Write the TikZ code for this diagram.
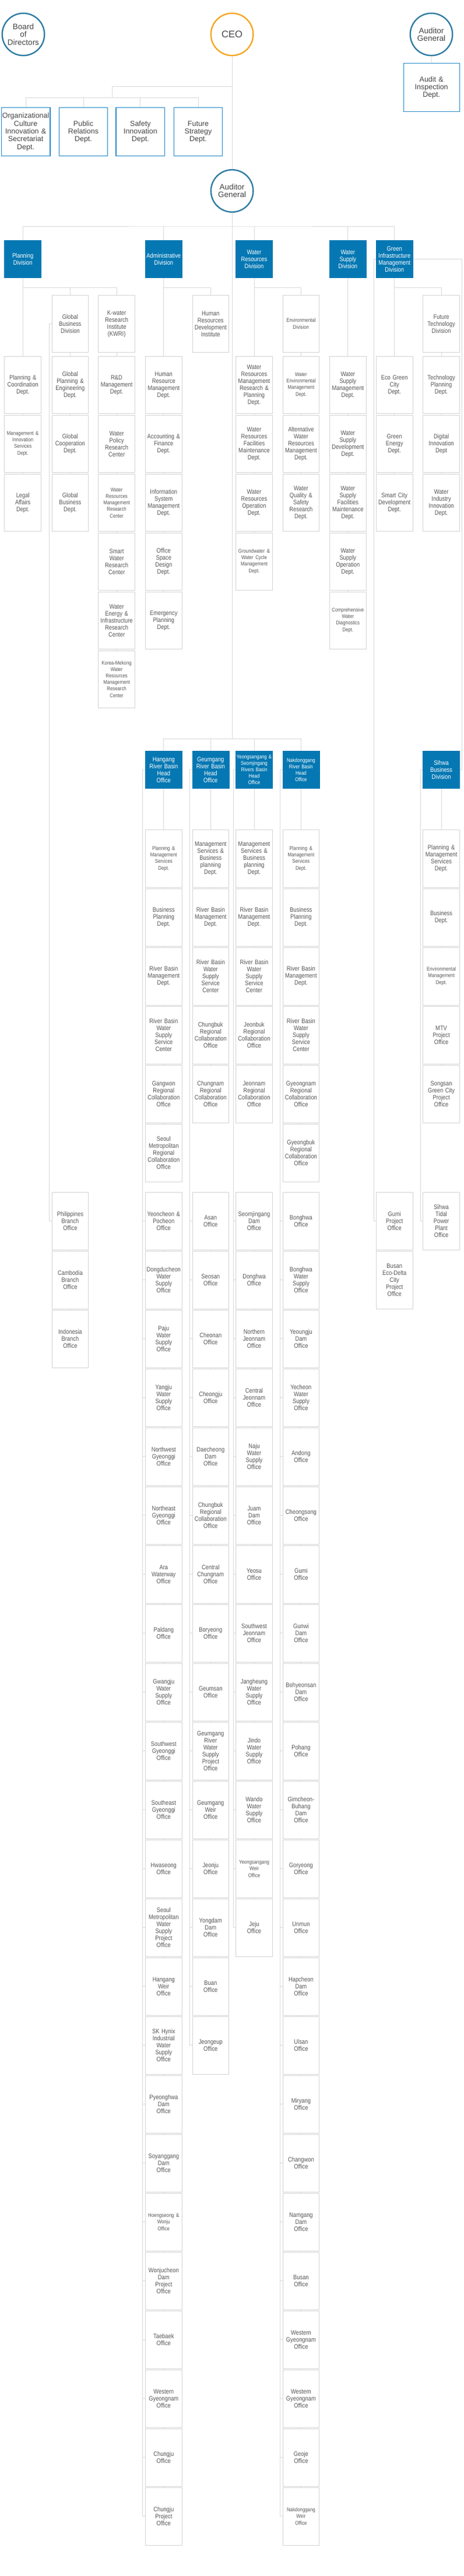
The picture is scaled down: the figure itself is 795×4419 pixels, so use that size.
\documentclass[tikz,border=0pt]{standalone}
\usepackage{fontspec}
\setmainfont{Liberation Sans}
\newfontfamily\kwbody[FakeStretch=0.85]{Liberation Sans}
\usetikzlibrary{backgrounds}
\newcommand\kwN{\kwbody\fontsize{11}{12}\selectfont}
\newcommand\kwS{\kwbody\fontsize{9.2}{11}\selectfont}
\newcommand\kwT{\fontsize{12.5}{13.3}\selectfont}
\newcommand\kwC{\fontsize{13.5}{13.3}\selectfont}
\newcommand\kwCEO{\fontsize{16.5}{18}\selectfont}
\definecolor{linegray}{HTML}{D9D9D9}
\definecolor{boxline}{HTML}{D4D4D4}
\definecolor{txtgray}{HTML}{555555}
\definecolor{divblue}{HTML}{0578B3}
\definecolor{topblue}{HTML}{2389C9}
\definecolor{circblue}{HTML}{2F7CA3}
\definecolor{ceoorange}{HTML}{F6A623}
\definecolor{toptxt}{HTML}{444444}
\newcommand\cA{39.2}
\newcommand\cB{120.4}
\newcommand\cC{200.1}
\newcommand\cD{280.8}
\newcommand\cE{361.3}
\newcommand\cF{436}
\newcommand\cG{516.4}
\newcommand\cH{596.8}
\newcommand\cI{676.7}
\newcommand\cJ{757.1}
% column of department boxes: prefix, x, first centre y, list
\newcommand\kwcol[4]{\foreach \kwtxt [count=\k from 0] in {#4} {\node[deptbox] (#1\k) at (#2,{#3+101*\k}) {\kwtxt};}}
% short connectors between stacked boxes
\newcommand\kwtick[2]{\foreach \k in {1,...,#2}{\pgfmathtruncatemacro\kwp{\k-1}\draw[conn] (#1\kwp.south) -- (#1\k.north);}}
% stubs from a side line
\newcommand\kwstub[3]{\foreach \k in {0,...,#2}{\draw[conn] (#1\k.west) -- ++(-#3,0);}}
\begin{document}
\begin{tikzpicture}[x=1pt,y=-1pt,
  deptbox/.style={rectangle, draw=boxline, fill=white, line width=0.8pt, minimum width=62.7pt, minimum height=98.2pt, text width=62pt, align=center, inner sep=0pt, text=txtgray, font=\kwN},
  divbox/.style={rectangle, fill=divblue, draw=divblue, line width=0.5pt, minimum width=63pt, minimum height=64.2pt, text width=62pt, align=center, inner sep=0pt, text=white, font=\kwN},
  topbox/.style={rectangle, draw=topblue, fill=white, line width=1.1pt, minimum width=83.8pt, minimum height=82.8pt, text width=82pt, align=center, inner sep=0pt, text=toptxt, font=\kwT},
  circ/.style={circle, draw=circblue, fill=white, line width=2.4pt, minimum size=72.5pt, inner sep=0pt, align=center, text=toptxt, font=\kwC},
  conn/.style={draw=linegray, line width=0.9pt}]
\useasboundingbox (0,0) rectangle (795,4419);

% ---------- top ----------
\node[circ] (bod) at (40,59) {Board\\of\\Directors};
\node[circ, draw=ceoorange, font=\kwCEO] (ceo) at (398.1,59) {CEO};
\node[circ] (ag1) at (740,59) {Auditor\\General};
\node[topbox, minimum width=95.8pt, text width=94pt] (aud) at (740.2,150.3) {Audit \&\\Inspection\\Dept.};
\node[topbox] (oc) at (44.1,226.3) {Organizational\\Culture\\Innovation \&\\Secretariat\\Dept.};
\node[topbox] (pr) at (143,226.3) {Public\\Relations\\Dept.};
\node[topbox] (si) at (240.9,226.3) {Safety\\Innovation\\Dept.};
\node[topbox] (fs) at (340,226.3) {Future\\Strategy\\Dept.};
\node[circ] (ag2) at (398.1,327.5) {Auditor\\General};

% ---------- divisions ----------
\node[divbox] (pd) at (\cA,444.3) {Planning\\Division};
\node[divbox] (ad) at (\cD,444.3) {Administrative\\Division};
\node[divbox] (wr) at (\cF,444.3) {Water\\Resources\\Division};
\node[divbox] (ws) at (\cH,444.3) {Water\\Supply\\Division};
\node[divbox] (gi) at (\cI,444.3) {Green\\Infrastructure\\Management\\Division};

\node[deptbox] (gbd) at (\cB,555.5) {Global\\Business\\Division};
\node[deptbox] (kwri) at (\cC,555.5) {K-water\\Research\\Institute\\(KWRI)};
\node[deptbox] (hrdi) at (\cE,555.5) {Human\\Resources\\Development\\Institute};
\node[deptbox] (env) at (\cG,555.5) {\kwS Environmental\\Division};
\node[deptbox] (ft) at (\cJ,555.5) {Future\\Technology\\Division};

\kwcol{pl}{\cA}{660.5}{{Planning \&\\Coordination\\Dept.},{\kwS Management \&\\Innovation\\Services\\Dept.},{Legal\\Affairs\\Dept.}}
\kwcol{gb}{\cB}{660.5}{{Global\\Planning \&\\Engineering\\Dept.},{Global\\Cooperation\\Dept.},{Global\\Business\\Dept.}}
\kwcol{kw}{\cC}{660.5}{{R\&D\\Management\\Dept.},{Water\\Policy\\Research\\Center},{\kwS Water\\Resources\\Management\\Research\\Center},{Smart\\Water\\Research\\Center},{Water\\Energy \&\\Infrastructure\\Research\\Center},{\kwS Korea-Mekong\\Water\\Resources\\Management\\Research\\Center}}
\kwcol{adm}{\cD}{660.5}{{Human\\Resource\\Management\\Dept.},{Accounting \&\\Finance\\Dept.},{Information\\System\\Management\\Dept.},{Office\\Space\\Design\\Dept.},{Emergency\\Planning\\Dept.}}
\kwcol{wrd}{\cF}{660.5}{{Water\\Resources\\Management\\Research \&\\Planning\\Dept.},{Water\\Resources\\Facilities\\Maintenance\\Dept.},{Water\\Resources\\Operation\\Dept.},{\kwS Groundwater \&\\Water Cycle\\Management\\Dept.}}
\kwcol{en}{\cG}{660.5}{{\kwS Water\\Environmental\\Management\\Dept.},{Alternative\\Water\\Resources\\Management\\Dept.},{Water\\Quality \&\\Safety\\Research\\Dept.}}
\kwcol{wsd}{\cH}{660.5}{{Water\\Supply\\Management\\Dept.},{Water\\Supply\\Development\\Dept.},{Water\\Supply\\Facilities\\Maintenance\\Dept.},{Water\\Supply\\Operation\\Dept.},{\kwS Comprehensive\\Water\\Diagnostics\\Dept.}}
\kwcol{gid}{\cI}{660.5}{{Eco Green\\City\\Dept.},{Green\\Energy\\Dept.},{Smart City\\Development\\Dept.}}
\kwcol{ftd}{\cJ}{660.5}{{Technology\\Planning\\Dept.},{Digital\\Innovation\\Dept},{Water\\Industry\\Innovation\\Dept.}}

% ---------- head offices ----------
\node[divbox] (hg) at (\cD,1320.3) {Hangang\\River Basin\\Head\\Office};
\node[divbox] (ge) at (\cE,1320.3) {Geumgang\\River Basin\\Head\\Office};
\node[divbox, font=\kwS] (ys) at (\cF,1320.3) {Yeongsangang \&\\Seomjingang\\Rivers Basin\\Head\\Office};
\node[divbox, font=\kwS] (nd) at (\cG,1320.3) {Nakdonggang\\River Basin\\Head\\Office};
\node[divbox] (sh) at (\cJ,1320.3) {Sihwa\\Business\\Division};

\kwcol{hgu}{\cD}{1472.8}{{\kwS Planning \&\\Management\\Services\\Dept.},{Business\\Planning\\Dept.},{River Basin\\Management\\Dept.},{River Basin\\Water\\Supply\\Service\\Center},{Gangwon\\Regional\\Collaboration\\Office},{Seoul\\Metropolitan\\Regional\\Collaboration\\Office}}
\kwcol{geu}{\cE}{1472.8}{{Management\\Services \&\\Business\\planning\\Dept.},{River Basin\\Management\\Dept.},{River Basin\\Water\\Supply\\Service\\Center},{Chungbuk\\Regional\\Collaboration\\Office},{Chungnam\\Regional\\Collaboration\\Office}}
\kwcol{ysu}{\cF}{1472.8}{{Management\\Services \&\\Business\\planning\\Dept.},{River Basin\\Management\\Dept.},{River Basin\\Water\\Supply\\Service\\Center},{Jeonbuk\\Regional\\Collaboration\\Office},{Jeonnam\\Regional\\Collaboration\\Office}}
\kwcol{ndu}{\cG}{1472.8}{{\kwS Planning \&\\Management\\Services\\Dept.},{Business\\Planning\\Dept.},{River Basin\\Management\\Dept.},{River Basin\\Water\\Supply\\Service\\Center},{Gyeongnam\\Regional\\Collaboration\\Office},{Gyeongbuk\\Regional\\Collaboration\\Office}}
\kwcol{shu}{\cJ}{1472.8}{{Planning \&\\Management\\Services\\Dept.},{Business\\Dept.},{\kwS Environmental\\Management\\Dept.},{MTV\\Project\\Office},{Songsan\\Green City\\Project\\Office}}

% ---------- lower offices ----------
\kwcol{gbl}{\cB}{2094.8}{{Philippines\\Branch\\Office},{Cambodia\\Branch\\Office},{Indonesia\\Branch\\Office}}
\kwcol{gil}{\cI}{2094.8}{{Gumi\\Project\\Office},{Busan\\Eco-Delta\\City\\Project\\Office}}
\kwcol{shl}{\cJ}{2094.8}{{Sihwa\\Tidal\\Power\\Plant\\Office}}
\kwcol{hgl}{\cD}{2094.8}{{Yeoncheon \&\\Pocheon\\Office},{Dongducheon\\Water\\Supply\\Office},{Paju\\Water\\Supply\\Office},{Yangju\\Water\\Supply\\Office},{Northwest\\Gyeonggi\\Office},{Northeast\\Gyeonggi\\Office},{Ara\\Waterway\\Office},{Paldang\\Office},{Gwangju\\Water\\Supply\\Office},{Southwest\\Gyeonggi\\Office},{Southeast\\Gyeonggi\\Office},{Hwaseong\\Office},{Seoul\\Metropolitan\\Water\\Supply\\Project\\Office},{Hangang\\Weir\\Office},{SK Hynix\\Industrial\\Water\\Supply\\Office},{Pyeonghwa\\Dam\\Office},{Soyanggang\\Dam\\Office},{\kwS Hoengseong \&\\Wonju\\Office},{Wonjucheon\\Dam\\Project\\Office},{Taebaek\\Office},{Western\\Gyeongnam\\Office},{Chungju\\Office},{Chungju\\Project\\Office}}
\kwcol{gel}{\cE}{2094.8}{{Asan\\Office},{Seosan\\Office},{Cheonan\\Office},{Cheongju\\Office},{Daecheong\\Dam\\Office},{Chungbuk\\Regional\\Collaboration\\Office},{Central\\Chungnam\\Office},{Boryeong\\Office},{Geumsan\\Office},{Geumgang\\River\\Water\\Supply\\Project\\Office},{Geumgang\\Weir\\Office},{Jeonju\\Office},{Yongdam\\Dam\\Office},{Buan\\Office},{Jeongeup\\Office}}
\kwcol{ysl}{\cF}{2094.8}{{Seomjingang\\Dam\\Office},{Donghwa\\Office},{Northern\\Jeonnam\\Office},{Central\\Jeonnam\\Office},{Naju\\Water\\Supply\\Office},{Juam\\Dam\\Office},{Yeosu\\Office},{Southwest\\Jeonnam\\Office},{Jangheung\\Water\\Supply\\Office},{Jindo\\Water\\Supply\\Office},{Wando\\Water\\Supply\\Office},{\kwS Yeongsangang\\Weir\\Office},{Jeju\\Office}}
\kwcol{ndl}{\cG}{2094.8}{{Bonghwa\\Office},{Bonghwa\\Water\\Supply\\Office},{Yeoungju\\Dam\\Office},{Yecheon\\Water\\Supply\\Office},{Andong\\Office},{Cheongsong\\Office},{Gumi\\Office},{Gunwi\\Dam\\Office},{Bohyeonsan\\Dam\\Office},{Pohang\\Office},{Gimcheon-\\Buhang\\Dam\\Office},{Goryeong\\Office},{Unmun\\Office},{Hapcheon\\Dam\\Office},{Ulsan\\Office},{Miryang\\Office},{Changwon\\Office},{Namgang\\Dam\\Office},{Busan\\Office},{Western\\Gyeongnam\\Office},{Western\\Gyeongnam\\Office},{Geoje\\Office},{\kwS Nakdonggang\\Weir\\Office}}

% ---------- connectors ----------
\begin{scope}[on background layer]
\fill[white] (0,0) rectangle (795,4419);
% top
\draw[conn] (ag1.south) -- (aud.north);
\draw[conn] (ceo.south) -- (ag2.north);
\coordinate (tb1) at (398.1,148.3);
\coordinate (tb2) at (192.7,167.3);
\draw[conn] (tb1) -| (tb2);
\draw[conn] (oc.north) |- (tb2) -| (fs.north);
\draw[conn] (pr.north) -- (pr.north |- tb2);
\draw[conn] (si.north) -- (si.north |- tb2);
% trunk and divisions
\coordinate (m388) at (398.1,388);
\coordinate (tE) at (398.1,1267.3);
\draw[conn] (ag2.south) -- (tE);
\draw[conn] (pd.north) |- (m388) -| (gi.north);
\draw[conn] (ad.north) -- (ad.north |- m388);
\draw[conn] (wr.north) -- (wr.north |- m388);
\draw[conn] (ws.north) -- (ws.north |- m388);
% planning
\coordinate (bP) at (\cA,493.3);
\draw[conn] (pd.south) -- (pl0.north);
\kwtick{pl}{2}
\draw[conn] (bP) -| (kwri.north);
\draw[conn] (gbd.north |- bP) -- (gbd.north);
\draw[conn] (gbd.south) -- (gb0.north);
\kwtick{gb}{2}
\draw[conn] (kwri.south) -- (kw0.north);
\kwtick{kw}{5}
\draw[conn] (gbd.west) -- ++(-4,0) |- (gbl0.west);
\kwtick{gbl}{2}
% administrative
\coordinate (bA) at (\cD,493.3);
\draw[conn] (ad.south) -- (adm0.north);
\kwtick{adm}{4}
\draw[conn] (bA) -| (hrdi.north);
% water resources
\coordinate (bW) at (\cF,493.3);
\draw[conn] (wr.south) -- (wrd0.north);
\kwtick{wrd}{3}
\draw[conn] (bW) -| (env.north);
\draw[conn] (env.south) -- (en0.north);
\kwtick{en}{2}
% water supply
\draw[conn] (ws.south) -- (wsd0.north);
\kwtick{wsd}{4}
% green infrastructure
\coordinate (bG) at (\cI,493.3);
\draw[conn] (gi.south) -- (gid0.north);
\kwtick{gid}{2}
\draw[conn] (bG) -| (ft.north);
\draw[conn] (ft.south) -- (ftd0.north);
\kwtick{ftd}{2}
\draw[conn] (gi.west) -- ++(-3.5,0) |- (gil0.west);
\kwtick{gil}{1}
\draw[conn] (gi.east) -- ++(83.5,0) |- (sh.east);
% river basin head offices
\draw[conn] (hg.north) |- (tE) -| (nd.north);
\draw[conn] (ge.north) -- (ge.north |- tE);
\draw[conn] (ys.north) -- (ys.north |- tE);
\draw[conn] (hg.south) -- (hgu0.north);
\kwtick{hgu}{5}
\draw[conn] (ge.south) -- (geu0.north);
\kwtick{geu}{4}
\draw[conn] (ys.south) -- (ysu0.north);
\kwtick{ysu}{4}
\draw[conn] (nd.south) -- (ndu0.north);
\kwtick{ndu}{5}
\draw[conn] (sh.south) -- (shu0.north);
\kwtick{shu}{4}
\draw[conn] (hg.west) -- ++(-4.3,0) |- (hgl22.west);
\kwstub{hgl}{22}{4.3}
\kwtick{hgl}{22}
\draw[conn] (ge.west) -- ++(-3.8,0) |- (gel14.west);
\kwstub{gel}{14}{3.8}
\kwtick{gel}{14}
\draw[conn] (ys.west) -- ++(-3.6,0) |- (ysl12.west);
\kwstub{ysl}{12}{3.6}
\kwtick{ysl}{12}
\draw[conn] (nd.west) -- ++(-4,0) |- (ndl22.west);
\kwstub{ndl}{22}{4}
\kwtick{ndl}{22}
\draw[conn] (sh.west) -- ++(-4,0) |- (shl0.west);
\end{scope}
\end{tikzpicture}
\end{document}
